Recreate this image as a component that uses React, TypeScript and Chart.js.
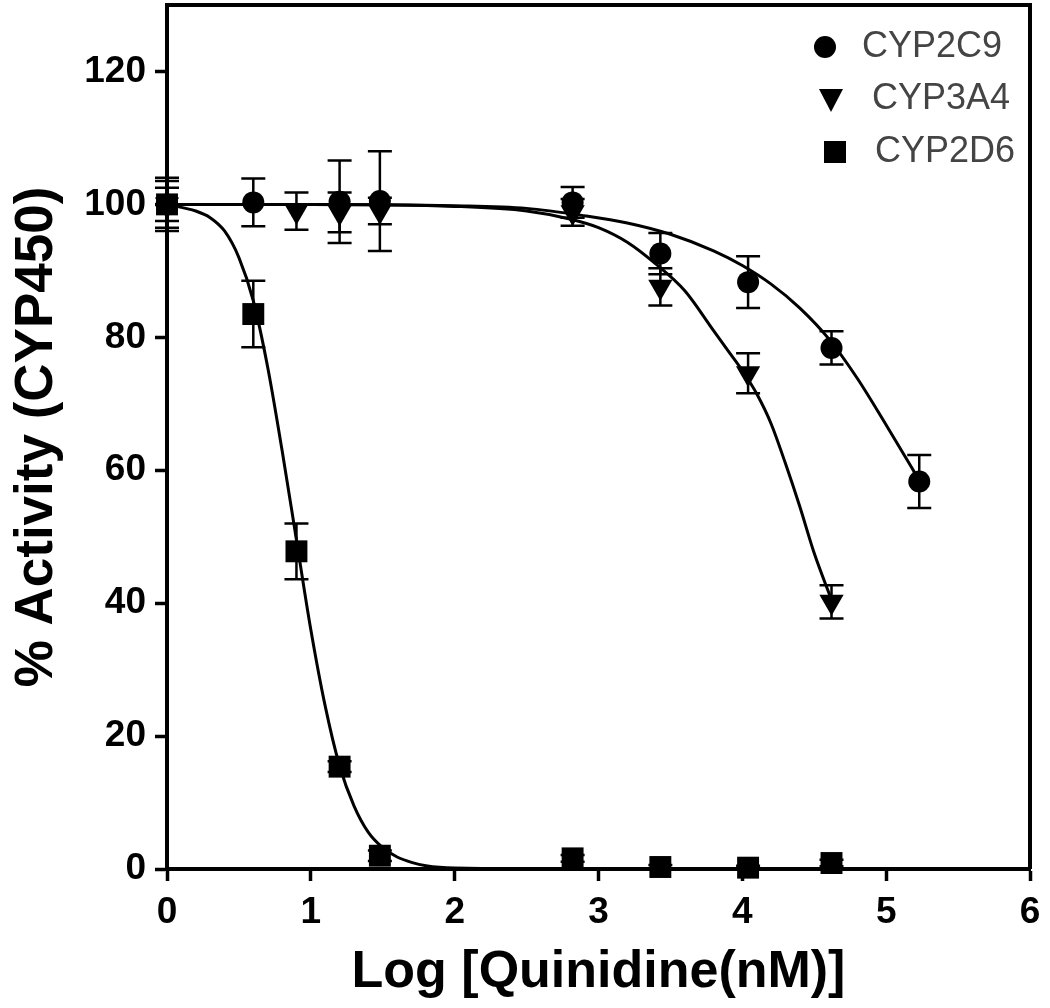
import React, { useEffect, useRef } from "react";
import { Chart, registerables } from "chart.js";

Chart.register(...registerables);

const FONT = '"Liberation Sans", Arial, Helvetica, sans-serif';

// ---- data ----
const seriesLabels = ["CYP2C9", "CYP3A4", "CYP2D6"];

const cyp2c9X = [0, 0.6, 1.2, 1.48, 2.82, 3.43, 4.04, 4.62, 5.23];
const cyp2c9Y = [100, 100.3, 100.4, 100.5, 100.3, 92.6, 88.3, 78.4, 58.3];
const cyp2c9Err = [3.5, 3.6, 6.2, 7.5, 2.3, 3.1, 3.9, 2.5, 4.0];

const cyp3a4X = [0, 0.9, 1.2, 1.48, 2.82, 3.43, 4.04, 4.62];
const cyp3a4Y = [100, 99, 98.8, 99, 98.8, 87.6, 74.6, 40.2];
const cyp3a4Err = [2.5, 2.8, 3.0, 2.0, 2.0, 2.8, 3.0, 2.5];

const cyp2d6X = [0, 0.6, 0.9, 1.2, 1.48, 2.82, 3.43, 4.04, 4.62];
const cyp2d6Y = [100, 83.5, 47.8, 15.4, 2.0, 1.6, 0.3, 0.2, 0.9];
const cyp2d6Err = [4.0, 5.0, 4.2, 0.8, 0.8, 0.5, 0.3, 0.3, 0.5];

// fitted curves
const curve2c9X = [0, 1, 2, 2.5, 2.9, 3.2, 3.5, 3.8, 4.0, 4.2, 4.4, 4.6, 4.8, 5.0, 5.23];
const curve2c9Y = [100, 100, 99.8, 99.4, 98.3, 97.2, 95.5, 93, 90.8, 88, 84.4, 79.8, 73.8, 66.8, 58.5];

const curve3a4X = [0, 1, 2, 2.5, 2.8, 3.0, 3.2, 3.4, 3.6, 3.8, 3.9, 4.0, 4.1, 4.2, 4.3, 4.4, 4.5, 4.62];
const curve3a4Y = [100, 100, 99.7, 99, 97.8, 96.5, 94.3, 91, 87, 81, 78, 75, 71.5, 67, 61, 54.5, 47.5, 40.5];

const curve2d6X = [0, 0.2, 0.3, 0.4, 0.5, 0.6, 0.7, 0.8, 0.9, 1.0, 1.1, 1.2, 1.3, 1.4, 1.5, 1.6, 1.7, 1.8, 2.0, 3.0, 4.62];
const curve2d6Y = [100, 99, 98, 96, 92, 85.5, 75.5, 63, 49.5, 36, 24.5, 15.5, 9.5, 5.5, 3.2, 1.8, 1.0, 0.5, 0.15, 0, 0];

const xTickValues = [0, 1, 2, 3, 4, 5, 6];
const yTickValues = [0, 20, 40, 60, 80, 100, 120];

const xTitle = "Log [Quinidine(nM)]";
const yTitle = "% Activity (CYP450)";

const pts = (xs: number[], ys: number[]) => xs.map((x, i) => ({ x, y: ys[i] }));

const markerSeries = [
  { x: cyp2c9X, y: cyp2c9Y, err: cyp2c9Err },
  { x: cyp3a4X, y: cyp3a4Y, err: cyp3a4Err },
  { x: cyp2d6X, y: cyp2d6Y, err: cyp2d6Err },
];

const errorBarPlugin = {
  id: "errorBars",
  beforeDatasetsDraw(chart: any) {
    const ctx = chart.ctx;
    const xs = chart.scales.x;
    const ys = chart.scales.y;
    ctx.save();
    ctx.strokeStyle = "#000";
    ctx.lineWidth = 2.5;
    const cap = 12;
    markerSeries.forEach((s) => {
      s.x.forEach((xv, i) => {
        const e = s.err[i];
        if (!e) return;
        const px = xs.getPixelForValue(xv);
        const top = ys.getPixelForValue(s.y[i] + e);
        const bot = ys.getPixelForValue(s.y[i] - e);
        ctx.beginPath();
        ctx.moveTo(px, top);
        ctx.lineTo(px, bot);
        ctx.moveTo(px - cap, top);
        ctx.lineTo(px + cap, top);
        ctx.moveTo(px - cap, bot);
        ctx.lineTo(px + cap, bot);
        ctx.stroke();
      });
    });
    ctx.restore();
  },
};

const framePlugin = {
  id: "frame",
  afterDatasetsDraw(chart: any) {
    const { ctx, chartArea } = chart;
    ctx.save();
    ctx.strokeStyle = "#000";
    ctx.lineWidth = 4;
    ctx.beginPath();
    ctx.moveTo(chartArea.left, chartArea.top);
    ctx.lineTo(chartArea.right, chartArea.top);
    ctx.lineTo(chartArea.right, chartArea.bottom);
    ctx.stroke();
    ctx.restore();
  },
};

const legendPlugin = {
  id: "customLegend",
  afterDraw(chart: any) {
    const { ctx, chartArea } = chart;
    const mx = chartArea.right - 205;
    const tx = chartArea.right - 168;
    const rows = [chartArea.top + 42, chartArea.top + 94, chartArea.top + 147];
    ctx.save();
    ctx.fillStyle = "#000";
    // circle
    ctx.beginPath();
    ctx.arc(mx, rows[0], 11, 0, Math.PI * 2);
    ctx.fill();
    // down triangle
    ctx.beginPath();
    ctx.moveTo(mx - 12 + 6, rows[1] - 10);
    ctx.lineTo(mx + 12 + 6, rows[1] - 10);
    ctx.lineTo(mx + 6, rows[1] + 13);
    ctx.closePath();
    ctx.fill();
    // square
    ctx.fillRect(mx + 10 - 11, rows[2] - 11, 22, 22);
    ctx.fillStyle = "#444";
    ctx.font = `36px ${FONT}`;
    ctx.textBaseline = "middle";
    ctx.textAlign = "left";
    ctx.fillText(seriesLabels[0], tx, rows[0]);
    ctx.fillText(seriesLabels[1], tx + 10, rows[1]);
    ctx.fillText(seriesLabels[2], tx + 13, rows[2]);
    ctx.restore();
  },
};

export default function App() {
  const canvasRef = useRef<HTMLCanvasElement | null>(null);

  useEffect(() => {
    if (!canvasRef.current) return;
    const curveStyle = {
      showLine: true,
      borderColor: "#000",
      borderWidth: 3,
      pointRadius: 0,
      pointHoverRadius: 0,
      cubicInterpolationMode: "monotone" as const,
      fill: false,
      clip: false as const,
    };
    const chart = new Chart(canvasRef.current, {
      type: "scatter",
      data: {
        datasets: [
          {
            label: seriesLabels[2],
            data: pts(cyp2d6X, cyp2d6Y),
            pointStyle: "rect",
            pointRadius: 15.5,
            backgroundColor: "#000",
            borderColor: "#000",
            borderWidth: 0,
            clip: false,
            order: 1,
          },
          {
            label: seriesLabels[0],
            data: pts(cyp2c9X, cyp2c9Y),
            pointStyle: "circle",
            pointRadius: 11,
            backgroundColor: "#000",
            borderColor: "#000",
            borderWidth: 0,
            clip: false,
            order: 2,
          },
          {
            label: seriesLabels[1],
            data: pts(cyp3a4X, cyp3a4Y),
            pointStyle: "triangle",
            pointRadius: 14,
            rotation: 180,
            backgroundColor: "#000",
            borderColor: "#000",
            borderWidth: 0,
            clip: false,
            order: 3,
          },
          { label: "fit " + seriesLabels[0], data: pts(curve2c9X, curve2c9Y), ...curveStyle, order: 4 },
          { label: "fit " + seriesLabels[1], data: pts(curve3a4X, curve3a4Y), ...curveStyle, order: 5 },
          { label: "fit " + seriesLabels[2], data: pts(curve2d6X, curve2d6Y), ...curveStyle, order: 6 },
        ],
      },
      options: {
        animation: false,
        responsive: false,
        devicePixelRatio: 1,
        layout: { autoPadding: false, padding: { left: 0, top: 5, right: 20, bottom: 0 } },
        plugins: {
          legend: { display: false },
          tooltip: { enabled: false },
        },
        scales: {
          x: {
            type: "linear",
            min: 0,
            max: 6,
            afterFit: (scale: any) => {
              scale.height = 139;
              scale.paddingLeft = 0;
              scale.paddingRight = 0;
            },
            afterBuildTicks: (scale: any) => {
              scale.ticks = xTickValues.map((v) => ({ value: v }));
            },
            ticks: {
              autoSkip: false,
              maxRotation: 0,
              color: "#000",
              padding: 10,
              font: { family: FONT, size: 37, weight: "bold" },
            },
            grid: {
              drawOnChartArea: false,
              drawTicks: true,
              tickLength: 12,
              tickWidth: 3.5,
              tickColor: "#000",
            },
            border: { display: true, color: "#000", width: 4 },
            title: {
              display: true,
              text: xTitle,
              color: "#000",
              padding: { top: 0, bottom: 4 },
              font: { family: FONT, size: 52, weight: "bold" },
            },
          },
          y: {
            type: "linear",
            min: 0,
            max: 130,
            afterFit: (scale: any) => {
              scale.width = 167;
              scale.paddingTop = 0;
              scale.paddingBottom = 0;
            },
            afterBuildTicks: (scale: any) => {
              scale.ticks = yTickValues.map((v) => ({ value: v }));
            },
            ticks: {
              autoSkip: false,
              color: "#000",
              padding: 9,
              font: { family: FONT, size: 37, weight: "bold" },
            },
            grid: {
              drawOnChartArea: false,
              drawTicks: true,
              tickLength: 12,
              tickWidth: 3.5,
              tickColor: "#000",
            },
            border: { display: true, color: "#000", width: 4 },
            title: {
              display: true,
              text: yTitle,
              color: "#000",
              padding: { top: 6, bottom: 0 },
              font: { family: FONT, size: 53, weight: "bold" },
            },
          },
        },
      },
      plugins: [errorBarPlugin, framePlugin, legendPlugin],
    } as any);
    return () => chart.destroy();
  }, []);

  return (
    <div style={{ position: "absolute", left: 0, top: 0, width: 1050, height: 1008, background: "#fff" }}>
      <canvas ref={canvasRef} width={1050} height={1008} style={{ width: 1050, height: 1008, display: "block" }} />
    </div>
  );
}
